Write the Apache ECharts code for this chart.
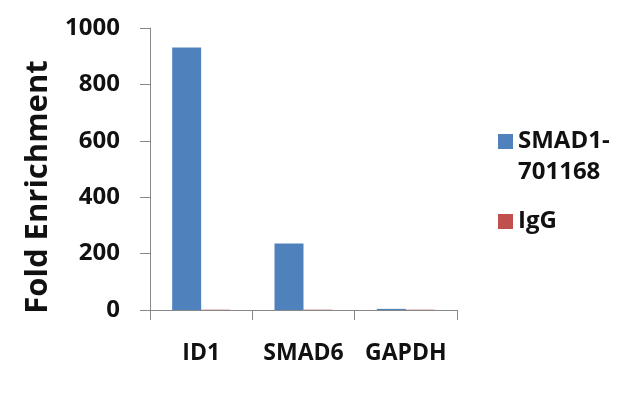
<!DOCTYPE html>
<html><head><meta charset="utf-8">
<script src="https://cdn.jsdelivr.net/npm/echarts@6/dist/echarts.min.js"></script>
<style>html,body{margin:0;padding:0;background:#fff}#c{width:635px;height:395px}</style>
</head><body><div id="c"></div>
<script>
const categories = ['ID1', 'SMAD6', 'GAPDH'];
const smad1Values = [931, 236, 4];
const iggValues = [1, 1, 1];
const yTicks = [0, 200, 400, 600, 800, 1000];
const seriesNames = ['SMAD1-701168', 'IgG'];

const FONT = 'Open Sans';
const LH = 31;
const chart = echarts.init(document.getElementById('c'), null, {renderer: 'canvas'});
chart.setOption({
  animation: false,
  backgroundColor: '#fff',
  grid: {left: 150, right: 178, top: 28, bottom: 85, containLabel: false},
  legend: [
    {
      data: [seriesNames[0]], orient: 'vertical', left: 493, top: 121,
      itemWidth: 15, itemHeight: 15 + LH,
      icon: 'path://M0,0H15V15H0Z M0,' + (15 + LH) + 'L0,' + (15 + LH),
      formatter: () => 'SMAD1-\n701168',
      textStyle: {fontFamily: FONT, fontWeight: 'bold', fontSize: 24, color: '#111', lineHeight: LH}
    },
    {
      data: [seriesNames[1]], orient: 'vertical', left: 493, top: 201,
      itemWidth: 15, itemHeight: 15, icon: 'rect',
      textStyle: {fontFamily: FONT, fontWeight: 'bold', fontSize: 24, color: '#111', lineHeight: LH}
    }
  ],
  xAxis: {
    type: 'category', data: categories,
    axisLine: {show: true, lineStyle: {color: '#888', width: 1}},
    axisTick: {show: true, length: 10, lineStyle: {color: '#888'}},
    axisLabel: {interval: 0, hideOverlap: false, margin: 32, fontFamily: FONT, fontWeight: 'bold', fontSize: 23, color: '#111'}
  },
  yAxis: {
    type: 'value', min: 0, max: 1000, interval: 200,
    name: 'Fold Enrichment', nameLocation: 'middle', nameGap: 96,
    nameTextStyle: {fontFamily: FONT, fontWeight: 'bold', fontSize: 31, color: '#111', padding: [0, 36, 0, 0]},
    axisLine: {show: true, lineStyle: {color: '#888', width: 1}},
    axisTick: {show: true, length: 10, lineStyle: {color: '#888'}},
    splitLine: {show: false},
    axisLabel: {margin: 30, fontFamily: FONT, fontWeight: 'bold', fontSize: 24, color: '#111',
      formatter: v => yTicks.includes(v) ? String(v) : ''}
  },
  series: [
    {name: seriesNames[0], type: 'bar', data: smad1Values, barWidth: 29, barGap: '0%',
     itemStyle: {color: '#4F81BD'}},
    {name: seriesNames[1], type: 'bar', data: iggValues, barWidth: 29, barGap: '0%',
     itemStyle: {color: '#C0504D'}}
  ]
});
</script></body></html>
